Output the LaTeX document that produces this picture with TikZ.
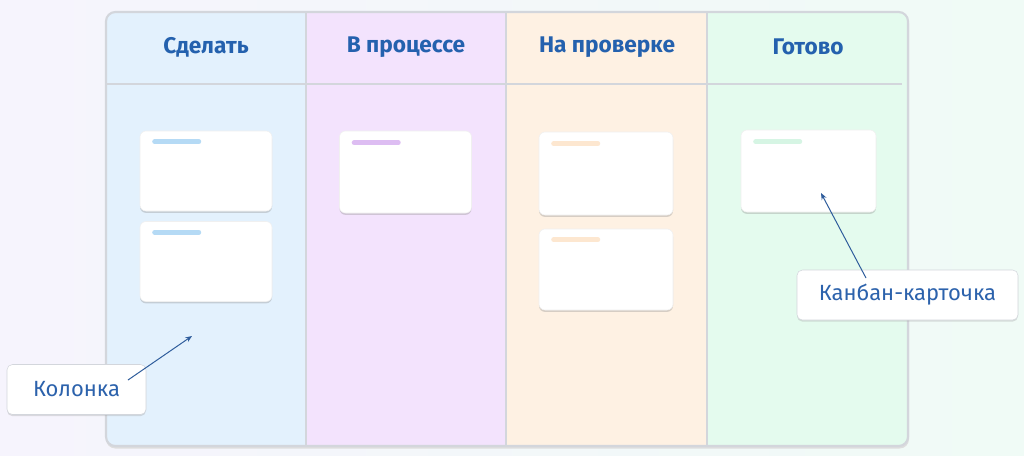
\documentclass[tikz,border=0pt]{standalone}
\usepackage{fontspec}
\setmainfont{Fira Sans}
\usetikzlibrary{arrows.meta,shadows}
\definecolor{bgL}{HTML}{F6F4FD}
\definecolor{bgR}{HTML}{F0FBF6}
\definecolor{colA}{HTML}{E3F1FD}
\definecolor{colB}{HTML}{F3E3FD}
\definecolor{colC}{HTML}{FEF1E3}
\definecolor{colD}{HTML}{E4FBEE}
\definecolor{stA}{HTML}{B5DAF5}
\definecolor{stB}{HTML}{DDBDF2}
\definecolor{stC}{HTML}{FDE7D0}
\definecolor{stD}{HTML}{D6F5E4}
\definecolor{edge}{HTML}{D3D6DC}
\definecolor{headtext}{HTML}{2461AE}
\definecolor{calltext}{HTML}{2C62AC}
\definecolor{arrowc}{HTML}{2F5D9C}
\newlength\px
\setlength\px{0.75pt}
\tikzset{
  header/.style={font=\bfseries\fontsize{17pt}{20pt}\selectfont, text=headtext},
  card/.style={draw=black!6, fill=white, rounded corners=4.5pt, minimum width=132\px, minimum height=80\px, inner sep=0pt,
    drop shadow={shadow xshift=0pt, shadow yshift=-1.4pt, opacity=0.35, fill=black!45}},
  stripe/.style={line width=5\px, line cap=round},
  callout/.style={draw=edge, fill=white, rounded corners=4pt, inner sep=0pt, minimum height=50\px,
    font=\fontsize{16.5pt}{19pt}\selectfont, text=calltext,
    drop shadow={shadow xshift=0pt, shadow yshift=-1.2pt, opacity=0.3, fill=black!40}},
  arr/.style={draw=arrowc, line width=0.75pt, -{Stealth[length=5pt, width=4pt]}},
  divider/.style={draw=edge, line width=1.2pt}
}
\begin{document}
\begin{tikzpicture}[x=0.75pt,y=-0.75pt]
\useasboundingbox (0,0) rectangle (1024,455);
\shade[left color=bgL, right color=bgR] (0,0) rectangle (1024,455);
% board shadow
\fill[black!13, rounded corners=7pt] (106,14) rectangle (909,448.5);
\begin{scope}
  \clip[rounded corners=7pt] (106,12) rectangle (908,446);
  \fill[colA] (106,12) rectangle (306,446);
  \fill[colB] (306,12) rectangle (506,446);
  \fill[colC] (506,12) rectangle (707,446);
  \fill[colD] (707,12) rectangle (908,446);
\end{scope}
\draw[divider] (306,12) -- (306,446);
\draw[divider] (506,12) -- (506,446);
\draw[divider] (707,12) -- (707,446);
\draw[divider] (106,84) -- (902,84);
\draw[edge, line width=1.6pt, rounded corners=7pt] (106,12) rectangle (908,446);
% headers
\node[header] (h1) at (206,47) {Сделать};
\node[header] (h2) at (406,47) {В процессе};
\node[header] (h3) at (607,47) {На проверке};
\node[header] (h4) at (808,47) {Готово};
% cards
\node[card] (a1) at (206,171) {};
\node[card] (a2) at (206,261.5) {};
\node[card, minimum height=82\px] (b1) at (405.5,172) {};
\node[card, minimum width=134\px, minimum height=83\px] (c1) at (606,173.5) {};
\node[card, minimum width=134\px, minimum height=81\px] (c2) at (606,269.5) {};
\node[card, minimum width=135\px, minimum height=82\px] (d1) at (808.5,171) {};
% stripes
\draw[stripe, stA] ([shift={(15,11)}]a1.north west) -- ++(44,0);
\draw[stripe, stA] ([shift={(15,11)}]a2.north west) -- ++(44,0);
\draw[stripe, stB] ([shift={(15,12)}]b1.north west) -- ++(44,0);
\draw[stripe, stC] ([shift={(15,12)}]c1.north west) -- ++(44,0);
\draw[stripe, stC] ([shift={(15,11)}]c2.north west) -- ++(44,0);
\draw[stripe, stD] ([shift={(15,12)}]d1.north west) -- ++(44,0);
% callouts
\node[callout, minimum width=139\px] (kol) at (76.5,389.5) {Колонка};
\node[callout, minimum width=221\px] (kan) at (907.5,295) {Канбан-карточка};
\coordinate (colpt) at (192,336);
\coordinate (cardpt) at (821,193);
\draw[arr] ([shift={(51.5,-9.5)}]kol.center) -- (colpt);
\draw[arr] ([shift={(-41.5,-17)}]kan.center) -- (cardpt);
\end{tikzpicture}
\end{document}
